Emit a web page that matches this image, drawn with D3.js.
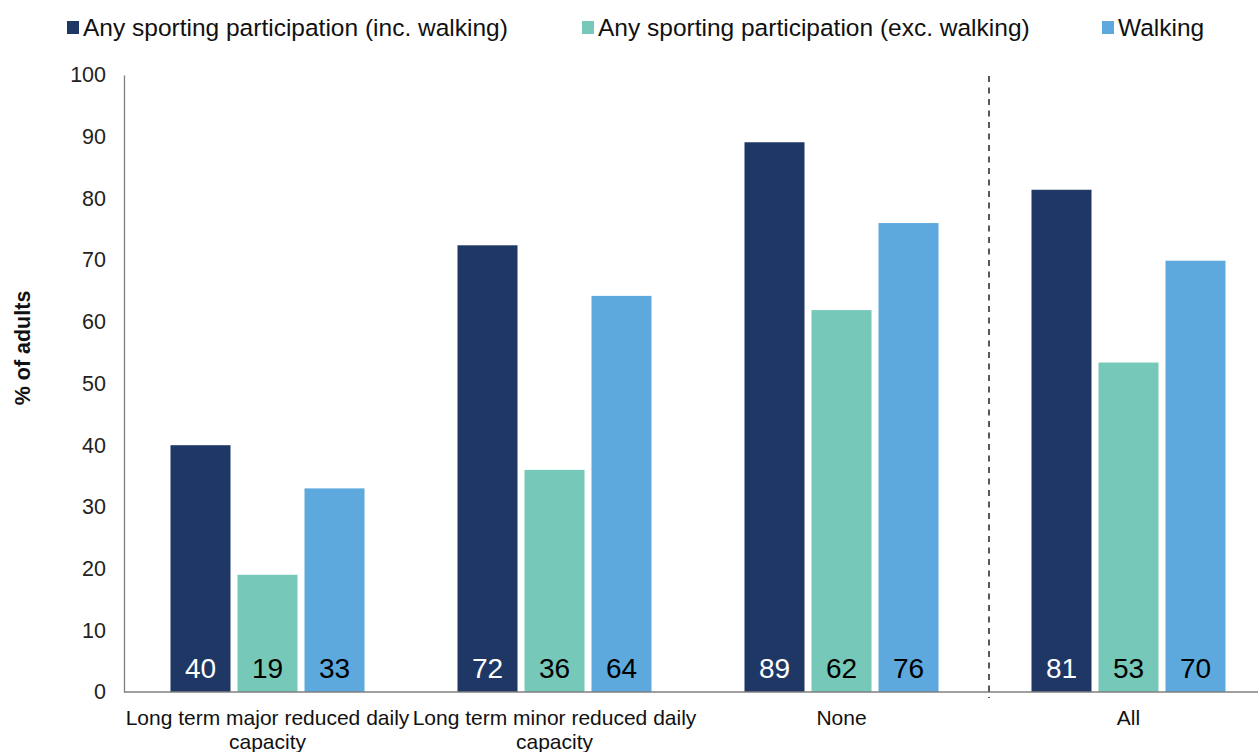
<!DOCTYPE html>
<html><head><meta charset="utf-8">
<script src="https://cdn.jsdelivr.net/npm/d3@7/dist/d3.min.js"></script>
<style>body{margin:0;background:#fff}svg{display:block;font-family:"Liberation Sans",Arial,sans-serif}</style>
</head><body><svg id="c" width="1258" height="752"></svg>
<script>
const categories = [["Long term major reduced daily","capacity"],["Long term minor reduced daily","capacity"],["None"],["All"]];
const seriesNames = ["Any sporting participation (inc. walking)","Any sporting participation (exc. walking)","Walking"];
const incWalking = [40, 72.4, 89.1, 81.4];
const excWalking = [19, 36, 61.9, 53.4];
const walking = [33, 64.2, 76, 69.9];
const yTicks = [0,10,20,30,40,50,60,70,80,90,100];
const colors = ["#1E3765","#76C8B9","#5DA9DD"];
const labelColors = ["#fff","#000","#000"];

const series = [incWalking, excWalking, walking];
const svg = d3.select("#c");
const x0 = d3.scaleBand().domain(d3.range(categories.length)).range([124, 1272]).paddingInner(0).paddingOuter(0);
const y = d3.scaleLinear().domain([0,100]).range([692, 75]);
const x1 = d3.scaleBand().domain(d3.range(3)).range([0, 194]).paddingInner(7/67).paddingOuter(0);
const groupOffset = (x0.bandwidth() - 194) / 2;

// y axis ticks
const yAxis = svg.append("g").attr("transform","translate(124,0)")
  .call(d3.axisLeft(y).tickValues(yTicks).tickSize(0).tickPadding(18));
yAxis.select(".domain").attr("stroke","#7f7f7f").attr("stroke-width",1.3);
yAxis.selectAll("text").attr("font-size",21.5).attr("fill","#222").attr("font-family","Liberation Sans, Arial, sans-serif");

// bars
categories.forEach((c,i)=>{
  const g = svg.append("g").attr("transform",`translate(${x0(i)+groupOffset},0)`);
  series.forEach((s,j)=>{
    g.append("rect").attr("x",x1(j)).attr("y",y(s[i])).attr("width",x1.bandwidth()).attr("height",y(0)-y(s[i])).attr("fill",colors[j]);
    g.append("text").attr("x",x1(j)+x1.bandwidth()/2).attr("y",y(0)-14).attr("text-anchor","middle")
      .attr("font-size",28).attr("fill",labelColors[j]).text(Math.round(s[i]));
  });
  const t = svg.append("text").attr("x",x0(i)+x0.bandwidth()/2).attr("y",725).attr("text-anchor","middle")
    .attr("font-size",21).attr("fill","#111");
  c.forEach((line,k)=>t.append("tspan").attr("x",x0(i)+x0.bandwidth()/2).attr("dy",k?24:0).text(line));
});

// x axis line
svg.append("line").attr("x1",124).attr("x2",1258).attr("y1",y(0)).attr("y2",y(0)).attr("stroke","#7f7f7f").attr("stroke-width",1.3);

// dashed divider
const dx = x0(3) + 4;
svg.append("line").attr("x1",dx).attr("x2",dx).attr("y1",76).attr("y2",698)
  .attr("stroke","#222").attr("stroke-width",1.5).attr("stroke-dasharray","6,5.5");

// y label
svg.append("text").attr("transform","translate(30,348) rotate(-90)").attr("text-anchor","middle")
  .attr("font-size",21.5).attr("font-weight","bold").attr("fill","#111").text("% of adults");

// legend
const legX = [83, 598, 1118];
seriesNames.forEach((n,j)=>{
  svg.append("rect").attr("x",legX[j]-16).attr("y",21).attr("width",12).attr("height",13).attr("fill",colors[j]);
  svg.append("text").attr("x",legX[j]).attr("y",36).attr("font-size",24.5).attr("fill","#111").text(n);
});
</script></body></html>
